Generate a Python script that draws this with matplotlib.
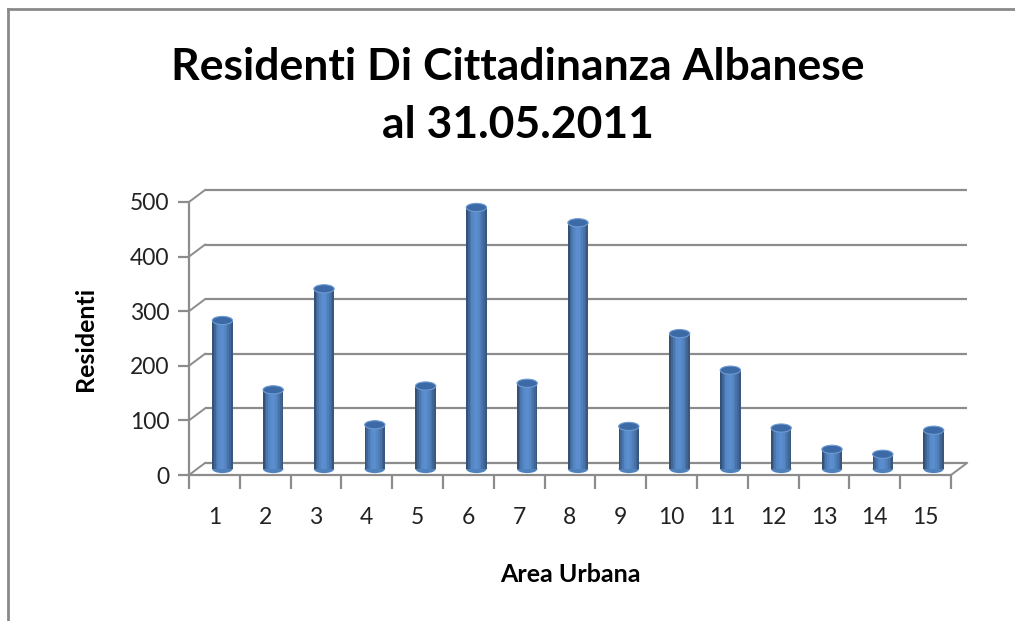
"""Residenti di cittadinanza albanese per area urbana (Excel-style 3D cylinders)."""
import matplotlib
matplotlib.use("Agg")
import matplotlib.pyplot as plt
from matplotlib.patches import Ellipse, Rectangle
import numpy as np

areas = list(range(1, 16))
residenti = [272, 145, 330, 81, 152, 479, 157, 451, 78, 248, 181, 75, 36, 27, 71]
y_ticks = [0, 100, 200, 300, 400, 500]

TITLE = "Residenti Di Cittadinanza Albanese\nal 31.05.2011"
FONT = ["Lato", "DejaVu Sans"]
GRID = "#8c8c8c"
C_CAP = "#3b6aa6"

W, H = 1015, 621
fig = plt.figure(figsize=(W / 100, H / 100), dpi=100)
fig.patch.set_facecolor("white")

# plot box = front face of the 3D box, in pixels
ax = fig.add_axes([189 / W, (H - 475) / H, 762 / W, 273 / H])
ax.set_xlim(0.5, 15.5)
ax.set_ylim(0, 500)
ax.patch.set_visible(False)

# depth offset of the back wall (16 px right, 12 px up) in data units
DX = 16 / (762 / 15)
DY = 12 / (273 / 500)

# back wall gridlines + side wall diagonals
for v in y_ticks:
    ax.plot([0.5 + DX, 15.5 + DX], [v + DY, v + DY], color=GRID, lw=1.6,
            clip_on=False, zorder=1, solid_capstyle="butt")
    ax.plot([0.5, 0.5 + DX], [v, v + DY], color=GRID, lw=1.4,
            clip_on=False, zorder=1)
ax.plot([15.5, 15.5 + DX], [0, DY], color=GRID, lw=1.4, clip_on=False, zorder=1)

# cylinders, placed at mid depth
bw = 0.4
shade = np.array([0.58, 0.72, 0.84, 0.93, 0.98, 1.0, 0.99, 0.95, 0.89, 0.81, 0.72, 0.62])
base_rgb = np.array([0x4f, 0x81, 0xbd]) / 255
light_rgb = np.array([0x5a, 0x8e, 0xcf]) / 255
n = len(shade)
for a, r in zip(areas, residenti):
    cx = a + DX / 2
    y0 = DY / 2
    left = cx - bw / 2
    for k, s in enumerate(shade):
        col = np.clip(light_rgb * s, 0, 1)
        ax.add_patch(Rectangle((left + k * bw / n, y0), bw / n * 1.05, r,
                               facecolor=col, edgecolor="none", zorder=3,
                               clip_on=False))
    ax.add_patch(Ellipse((cx, y0), bw, 15, facecolor=base_rgb,
                         edgecolor="none", zorder=2.9, clip_on=False))
    ax.add_patch(Ellipse((cx, r + y0), bw, 15, facecolor=C_CAP,
                         edgecolor="#6f9bd2", lw=0.8, zorder=4, clip_on=False))

# front axes
for side in ("top", "right"):
    ax.spines[side].set_visible(False)
for side in ("left", "bottom"):
    ax.spines[side].set_color(GRID)
    ax.spines[side].set_linewidth(1.6)
ax.set_yticks(y_ticks)
ax.set_yticklabels([str(v) for v in y_ticks], fontsize=16.5, family=FONT,
                   color="#222222")
ax.tick_params(axis="y", length=8, width=1.6, color=GRID, pad=6)
ax.set_xticks(areas)
ax.set_xticklabels([str(a) for a in areas], fontsize=16.5, family=FONT,
                   color="#222222")
ax.tick_params(axis="x", length=0, pad=23)
ax.set_xticks(np.arange(0.5, 16, 1), minor=True)
ax.tick_params(axis="x", which="minor", length=10, width=1.6, color=GRID)

ax.set_ylabel("Residenti", fontsize=18, fontweight="bold", family=FONT,
              labelpad=24)
ax.set_xlabel("Area Urbana", fontsize=18, fontweight="bold", family=FONT,
              labelpad=25)

fig.text(518 / W, 1 - 96 / H, TITLE, ha="center", va="center",
         fontsize=32, fontweight="bold", family=FONT, linespacing=1.55)

# chart border
fig.add_artist(plt.Line2D([8 / W, 8 / W], [0, 1 - 9 / H], color="#8a8a8a",
                          lw=2, transform=fig.transFigure))
fig.add_artist(plt.Line2D([8 / W, 1], [1 - 9 / H, 1 - 9 / H], color="#8a8a8a",
                          lw=2, transform=fig.transFigure))

fig.savefig("out.png", dpi=100)
